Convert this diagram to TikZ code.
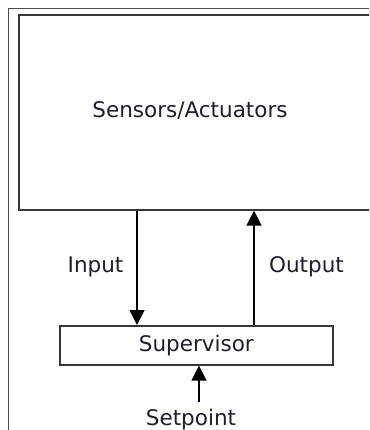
\documentclass[tikz,border=0pt]{standalone}
\usepackage{fontspec}
\setmainfont{DejaVu Sans}
\usetikzlibrary{arrows.meta}
\definecolor{framegrey}{RGB}{75,75,75}
\definecolor{linedark}{RGB}{55,55,55}
\definecolor{textdark}{RGB}{30,30,45}
\tikzset{
  flow/.style={-{Triangle[length=15pt,width=15pt]}, line width=1.3pt, draw=black},
  box/.style={draw=linedark, line width=1.6pt, fill=white, inner sep=0pt},
  lbl/.style={font=\fontsize{21.5}{25}\selectfont, text=textdark, inner sep=0pt}
}
\begin{document}
\begin{tikzpicture}[x=1pt,y=-1pt]
  \useasboundingbox (0,0) rectangle (369,430);
  \clip (0,0) rectangle (369,430);

  % panel border, cut off at the right and bottom
  \draw[framegrey, line width=1.8pt] (8.5,460) |- (400,8.5);

  \node[box, anchor=north west, minimum width=390pt, minimum height=195pt]
    (sensors) at (18,14) {};
  \node[lbl, anchor=base] (sensorslabel) at (190,118) {Sensors/Actuators};

  \node[box, lbl, draw=linedark, anchor=north west, minimum width=273pt,
    minimum height=39pt] (supervisor) at (59,325) {Supervisor};

  \node[lbl, anchor=base] (input) at (95.5,272) {Input};
  \node[lbl, anchor=base] (output) at (306.5,272) {Output};
  \node[lbl, anchor=base] (setpoint) at (191,425) {Setpoint};

  \coordinate (inx) at (137,0);
  \coordinate (outx) at (254,0);
  \coordinate (spx) at (199,0);

  \draw[flow] (sensors.south -| inx) -- (supervisor.north -| inx);
  \draw[flow] (supervisor.north -| outx) -- (sensors.south -| outx);
  \draw[flow] ([yshift=6pt]setpoint.north -| spx) -- (supervisor.south -| spx);
\end{tikzpicture}
\end{document}
